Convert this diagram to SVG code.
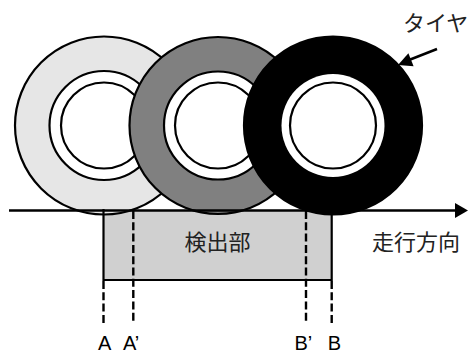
<svg xmlns="http://www.w3.org/2000/svg" width="468" height="354" viewBox="0 0 468 354">
  <style>
    .ln { stroke: #000; stroke-width: 2.2; fill: none; }
    .dash { stroke: #000; stroke-width: 2.4; stroke-dasharray: 8 3.3; fill: none; }
    .rim { fill: #fff; stroke: #000; stroke-width: 2.2; }
    .jp { font-family: "Noto Sans CJK JP", sans-serif; font-size: 22px; fill: #222; }
    .lt { font-family: "Liberation Sans", Arial, sans-serif; font-size: 20px; fill: #000; }
  </style>
  <rect width="468" height="354" fill="#fff"/>

  <!-- detection area -->
  <g id="detector">
    <rect x="103.5" y="210" width="228.2" height="70" fill="#d0d0d0"/>
    <line class="ln" x1="103.5" y1="280" x2="331.7" y2="280"/>
    <text class="jp" x="217.6" y="250" text-anchor="middle">検出部</text>
  </g>

  <!-- three tire positions -->
  <g id="tire1">
    <circle cx="104" cy="125.5" r="89" fill="#e6e6e6" stroke="#000" stroke-width="2.2"/>
    <circle class="rim" cx="104" cy="125.5" r="54.5"/>
    <circle class="rim" cx="104" cy="125.5" r="43"/>
  </g>
  <g id="tire2">
    <circle cx="218" cy="125.5" r="88.5" fill="#808080" stroke="#000" stroke-width="2.2"/>
    <circle class="rim" cx="218" cy="125.5" r="54"/>
    <circle class="rim" cx="218" cy="125.5" r="43"/>
  </g>
  <g id="tire3">
    <circle cx="333" cy="125.5" r="89" fill="#000" stroke="#000" stroke-width="2.2"/>
    <circle cx="333" cy="125.5" r="51.5" fill="#fff"/>
    <circle class="rim" cx="333" cy="125.5" r="43"/>
  </g>

  <g id="connectors">
    <!-- road / travel direction -->
    <line x1="9" y1="210.5" x2="457" y2="210.5" stroke="#000" stroke-width="2.5"/>
    <polygon points="468,210.5 455,203 455,218" fill="#000"/>
    <!-- pointer to tire -->
    <line x1="437" y1="49" x2="409" y2="60" stroke="#000" stroke-width="2.5"/>
    <polygon points="398,65 408.4,53.3 413.6,66.3" fill="#000"/>
    <!-- boundaries A and B -->
    <line class="ln" x1="103.5" y1="209" x2="103.5" y2="281"/>
    <line class="ln" x1="331.7" y1="209" x2="331.7" y2="281"/>
    <line class="dash" x1="103.5" y1="281" x2="103.5" y2="323.3"/>
    <line class="dash" x1="331.7" y1="281" x2="331.7" y2="323.3"/>
    <!-- boundaries A' and B' -->
    <line class="dash" x1="133.3" y1="211" x2="133.3" y2="323.3"/>
    <line class="dash" x1="306" y1="211" x2="306" y2="323.3"/>
  </g>

  <g id="labels">
    <text class="jp" x="403" y="31">タイヤ</text>
    <text class="jp" x="372" y="250">走行方向</text>
    <text class="lt" x="98" y="349.5">A</text>
    <text class="lt" x="123" y="349.5">A’</text>
    <text class="lt" x="294.5" y="349.5">B’</text>
    <text class="lt" x="327.8" y="349.5">B</text>
  </g>
</svg>
